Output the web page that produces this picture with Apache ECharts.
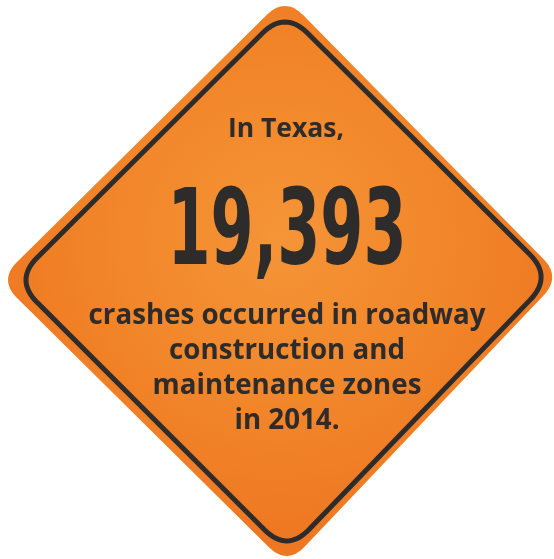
<!DOCTYPE html>
<html><head><meta charset="utf-8">
<script src="https://cdn.jsdelivr.net/npm/echarts@6/dist/echarts.min.js"></script>
<style>html,body{margin:0;padding:0;background:#fff}#c{width:554px;height:559px}</style>
</head><body><div id="c"></div>
<script>
// ---- data ----
var headline = "In Texas,";
var crashCount = 19393;
var year = 2014;
var bodyLines = ["crashes occurred in roadway", "construction and", "maintenance zones", "in " + year + "."];

// ---- geometry helpers ----
function roundedQuad(apices, d) {
  var cx = 0, cy = 0;
  apices.forEach(function (p) { cx += p[0] / 4; cy += p[1] / 4; });
  var V = apices.map(function (p) {
    var dx = p[0] - cx, dy = p[1] - cy, L = Math.sqrt(dx * dx + dy * dy);
    return [p[0] + dx / L * 0.354 * d, p[1] + dy / L * 0.354 * d];
  });
  function toward(a, b, dist) {
    var dx = b[0] - a[0], dy = b[1] - a[1], L = Math.sqrt(dx * dx + dy * dy);
    return [a[0] + dx / L * dist, a[1] + dy / L * dist];
  }
  var pts = [];
  for (var i = 0; i < 4; i++) {
    var v = V[i], prev = V[(i + 3) % 4], next = V[(i + 1) % 4];
    var a = toward(v, prev, d), b = toward(v, next, d);
    for (var k = 0; k <= 16; k++) {
      var t = k / 16, u = 1 - t;
      pts.push([u * u * a[0] + 2 * u * t * v[0] + t * t * b[0], u * u * a[1] + 2 * u * t * v[1] + t * t * b[1]]);
    }
  }
  return pts;
}

var outerPts = roundedQuad([[285, 6], [552, 277], [287, 556], [8, 280]], 26);
var innerPts = roundedQuad([[285, 22], [541, 277], [287, 541], [26, 280]], 32);

var ink = "#2e2c2b";
var chart = echarts.init(document.getElementById("c"), null, { renderer: "canvas" });
chart.setOption({
  backgroundColor: "#ffffff",
  graphic: [
    {
      type: "polygon", shape: { points: outerPts },
      style: {
        fill: new echarts.graphic.RadialGradient(0.5, 0.42, 0.55, [
          { offset: 0, color: "#f49537" }, { offset: 0.55, color: "#f2862a" }, { offset: 1, color: "#ee7822" }])
      }
    },
    { type: "polygon", shape: { points: innerPts }, style: { fill: "none", stroke: ink, lineWidth: 5 } },
    {
      type: "text", x: 286, y: 129,
      style: { text: headline, fill: ink, font: "bold 26.5px 'Open Sans', sans-serif", textAlign: "center", textVerticalAlign: "middle" }
    },
    {
      type: "text", x: 287, y: 237, scaleX: 0.59,
      style: { text: crashCount.toLocaleString("en-US"), fill: ink, font: "bold 105px 'DejaVu Sans', sans-serif", textAlign: "center", textVerticalAlign: "middle" }
    }
  ].concat(bodyLines.map(function (t, i) {
    return {
      type: "text", x: 287, y: 316 + i * 35,
      style: { text: t, fill: ink, font: "bold 27.7px 'Open Sans', sans-serif", textAlign: "center", textVerticalAlign: "middle" }
    };
  }))
});
</script></body></html>
